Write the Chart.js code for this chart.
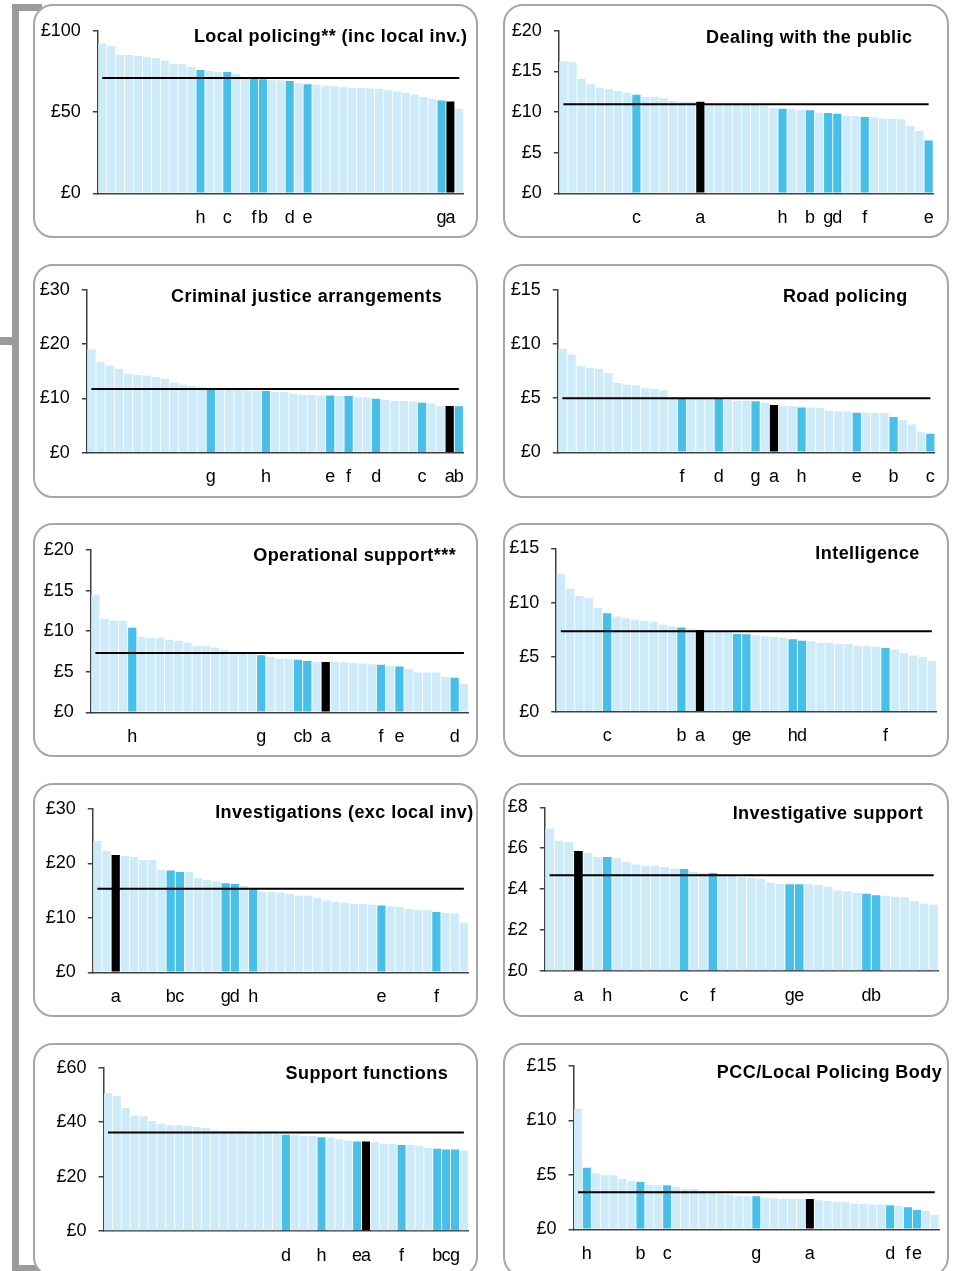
<!DOCTYPE html>
<html>
<head>
<meta charset="utf-8">
<script src="https://cdn.jsdelivr.net/npm/chart.js@4.4.1/dist/chart.umd.min.js"></script>
<style>
  body { margin: 0; background: #fff; }
  #wrap { position: relative; width: 955px; height: 1271px; overflow: hidden; background: #fff;
          font-family: 'Liberation Sans', Arial, sans-serif; }
  .bracket { position: absolute; background: #9b9b9b; }
  .panel { position: absolute; box-sizing: border-box; border: 2px solid #a6a6a6; border-radius: 20px; background: #fff; }
  .chart { position: absolute; }
  .title { position: absolute; font-weight: bold; font-size: 18px; line-height: 18px; letter-spacing: 0.45px;
           white-space: nowrap; color: #000; text-align: right; }
</style>
</head>
<body>
<div id="wrap">
  <div class="bracket" style="left:12px;top:4px;width:7px;height:1267px"></div>
  <div class="bracket" style="left:12px;top:4px;width:30px;height:7px"></div>
  <div class="bracket" style="left:0;top:337px;width:12px;height:8px"></div>
  <div class="bracket" style="left:12px;top:1265px;width:30px;height:7px"></div>
</div>
<script>
/* costs per head, 41 forces sorted high to low; letters mark the 8 highlighted forces, 'a' in black */

const localValues = [92.2, 90.4, 85.2, 85.0, 84.4, 83.6, 83.2, 81.6, 79.5, 79.3,
  77.7, 75.8, 75.2, 74.6, 74.6, 73.4, 71.0, 70.5, 70.2, 69.5,
  69.5, 69.0, 67.8, 67.0, 66.8, 66.2, 65.8, 65.2, 64.8, 64.8,
  64.5, 64.1, 63.3, 62.5, 61.7, 60.7, 59.4, 58.2, 57.0, 56.4, 51.8];
const localLabels = ['', '', '', '', '', '', '', '', '', '',
  '', 'h', '', '', 'c', '', '', 'f', 'b', '',
  '', 'd', '', 'e', '', '', '', '', '', '',
  '', '', '', '', '', '', '', '', 'g', 'a', ''];
const localAvg = 70.9;

const publicValues = [16.2, 16.15, 14.06, 13.4, 12.95, 12.8, 12.54, 12.38, 12.13, 11.84,
  11.84, 11.68, 11.35, 11.25, 11.25, 11.25, 11.0, 10.95, 10.95, 10.9,
  10.9, 10.85, 10.8, 10.53, 10.41, 10.37, 10.25, 10.2, 9.92, 9.88,
  9.8, 9.55, 9.5, 9.39, 9.34, 9.18, 9.14, 9.1, 8.28, 7.66, 6.48];
const publicLabels = ['', '', '', '', '', '', '', '', 'c', '',
  '', '', '', '', '', 'a', '', '', '', '',
  '', '', '', '', 'h', '', '', 'b', '', 'g',
  'd', '', '', 'f', '', '', '', '', '', '', 'e'];
const publicAvg = 10.95;

const justiceValues = [19.05, 16.7, 16.1, 15.5, 14.57, 14.32, 14.2, 13.95, 13.58, 12.9,
  12.54, 12.29, 12.17, 11.92, 11.68, 11.55, 11.55, 11.43, 11.43, 11.37,
  11.19, 11.19, 10.88, 10.63, 10.63, 10.57, 10.57, 10.45, 10.45, 10.2,
  10.2, 9.96, 9.71, 9.53, 9.53, 9.47, 9.22, 9.1, 8.6, 8.6, 8.55];
const justiceLabels = ['', '', '', '', '', '', '', '', '', '',
  '', '', '', 'g', '', '', '', '', '', 'h',
  '', '', '', '', '', '', 'e', '', 'f', '',
  '', 'd', '', '', '', '', 'c', '', '', 'a', 'b'];
const justiceAvg = 11.74;

const roadValues = [9.58, 9.05, 7.98, 7.82, 7.73, 7.33, 6.41, 6.25, 6.19, 5.91,
  5.85, 5.73, 5.11, 4.96, 4.93, 4.93, 4.93, 4.93, 4.84, 4.77,
  4.77, 4.71, 4.59, 4.37, 4.31, 4.28, 4.13, 4.13, 4.1, 3.85,
  3.79, 3.76, 3.66, 3.66, 3.63, 3.63, 3.26, 2.96, 2.56, 1.85, 1.72];
const roadLabels = ['', '', '', '', '', '', '', '', '', '',
  '', '', '', 'f', '', '', '', 'd', '', '',
  '', 'g', '', 'a', '', '', 'h', '', '', '',
  '', '', 'e', '', '', '', 'b', '', '', '', 'c'];
const roadAvg = 5.0;

const opsValues = [14.46, 11.54, 11.29, 11.29, 10.43, 9.28, 9.2, 9.2, 8.95, 8.79,
  8.54, 8.21, 8.13, 7.97, 7.72, 7.47, 7.35, 7.19, 7.02, 6.86,
  6.61, 6.53, 6.49, 6.32, 6.24, 6.2, 6.2, 6.16, 6.08, 6.0,
  5.91, 5.87, 5.75, 5.63, 5.38, 4.89, 4.89, 4.89, 4.35, 4.27, 3.53];
const opsLabels = ['', '', '', '', 'h', '', '', '', '', '',
  '', '', '', '', '', '', '', '', 'g', '',
  '', '', 'c', 'b', '', 'a', '', '', '', '',
  '', 'f', '', 'e', '', '', '', '', '', 'd', ''];
const opsAvg = 7.31;

const intelValues = [12.64, 11.26, 10.62, 10.41, 9.52, 9.03, 8.75, 8.57, 8.45, 8.33,
  8.26, 7.99, 7.81, 7.74, 7.56, 7.5, 7.35, 7.32, 7.26, 7.13,
  7.1, 7.01, 6.92, 6.86, 6.76, 6.64, 6.52, 6.46, 6.31, 6.31,
  6.21, 6.21, 6.06, 6.0, 5.97, 5.85, 5.69, 5.36, 5.17, 5.02, 4.65];
const intelLabels = ['', '', '', '', '', 'c', '', '', '', '',
  '', '', '', 'b', '', 'a', '', '', '', 'g',
  'e', '', '', '', '', 'h', 'd', '', '', '',
  '', '', '', '', '', 'f', '', '', '', '', ''];
const intelAvg = 7.38;

const investValues = [24.13, 22.29, 21.55, 21.37, 21.19, 20.64, 20.64, 18.86, 18.68, 18.43,
  18.43, 17.33, 16.96, 16.72, 16.35, 16.23, 15.86, 15.37, 14.76, 14.76,
  14.64, 14.39, 14.08, 14.08, 13.66, 13.17, 12.92, 12.8, 12.55, 12.55,
  12.43, 12.25, 12.12, 12.0, 11.63, 11.39, 11.39, 11.08, 10.9, 10.78, 9.12];
const investLabels = ['', '', 'a', '', '', '', '', '', 'b', 'c',
  '', '', '', '', 'g', 'd', '', 'h', '', '',
  '', '', '', '', '', '', '', '', '', '',
  '', 'e', '', '', '', '', '', 'f', '', '', ''];
const investAvg = 15.37;

const invSupValues = [6.97, 6.37, 6.31, 5.87, 5.77, 5.57, 5.57, 5.51, 5.33, 5.2,
  5.13, 5.13, 5.08, 5.0, 4.99, 4.84, 4.79, 4.79, 4.68, 4.64,
  4.58, 4.55, 4.5, 4.32, 4.25, 4.24, 4.24, 4.24, 4.2, 4.12,
  3.93, 3.88, 3.81, 3.78, 3.7, 3.67, 3.63, 3.6, 3.41, 3.29, 3.24];
const invSupLabels = ['', '', '', 'a', '', '', 'h', '', '', '',
  '', '', '', '', 'c', '', '', 'f', '', '',
  '', '', '', '', '', 'g', 'e', '', '', '',
  '', '', '', 'd', 'b', '', '', '', '', '', ''];
const invSupAvg = 4.68;

const supportValues = [50.6, 49.6, 45.2, 42.4, 42.1, 40.4, 39.3, 38.9, 38.9, 38.7,
  38.2, 37.8, 36.9, 36.7, 36.7, 36.7, 36.5, 36.1, 35.9, 35.6,
  35.4, 35.4, 34.9, 34.9, 34.4, 34.3, 33.7, 33.2, 32.9, 32.9,
  32.7, 32.1, 32.1, 31.6, 31.6, 31.2, 30.5, 30.2, 29.9, 29.9, 29.6];
const supportLabels = ['', '', '', '', '', '', '', '', '', '',
  '', '', '', '', '', '', '', '', '', '',
  'd', '', '', '', 'h', '', '', '', 'e', 'a',
  '', '', '', 'f', '', '', '', 'b', 'c', 'g', ''];
const supportAvg = 36.2;

const pccValues = [11.05, 5.66, 5.14, 4.96, 4.96, 4.65, 4.44, 4.35, 4.07, 4.04,
  4.04, 3.89, 3.7, 3.7, 3.43, 3.31, 3.21, 3.18, 3.09, 3.03,
  3.03, 2.88, 2.85, 2.79, 2.79, 2.79, 2.79, 2.66, 2.6, 2.54,
  2.51, 2.36, 2.33, 2.27, 2.27, 2.2, 2.14, 2.02, 1.78, 1.71, 1.32];
const pccLabels = ['', 'h', '', '', '', '', '', 'b', '', '',
  'c', '', '', '', '', '', '', '', '', '',
  'g', '', '', '', '', '', 'a', '', '', '',
  '', '', '', '', '', 'd', '', 'f', 'e', '', ''];
const pccAvg = 3.4;

/* layout: box = panel top-left, plot = [left, right, top, bottom] of bar area, head = [title right edge, cap top] */
const panels = [
  { title: 'Local policing** (inc local inv.)', values: localValues, labels: localLabels, avg: localAvg, max: 100, step: 50,
    box: [33, 4, 445], plot: [97.8, 463.8, 30.7, 193.3], head: [467, 29.7] },
  { title: 'Dealing with the public', values: publicValues, labels: publicLabels, avg: publicAvg, max: 20, step: 5,
    box: [503, 4, 446], plot: [558.8, 933.2, 30.7, 193.3], head: [912, 30] },
  { title: 'Criminal justice arrangements', values: justiceValues, labels: justiceLabels, avg: justiceAvg, max: 30, step: 10,
    box: [33, 264, 445], plot: [86.8, 466.5, 290, 452.7], head: [441.7, 289.3] },
  { title: 'Road policing', values: roadValues, labels: roadLabels, avg: roadAvg, max: 15, step: 5,
    box: [503, 264, 446], plot: [557.8, 937.2, 290, 452.3], head: [907.3, 289.3] },
  { title: 'Operational support***', values: opsValues, labels: opsLabels, avg: opsAvg, max: 20, step: 5,
    box: [33, 523, 445], plot: [90.8, 469.2, 550, 712.3], head: [455.7, 548.3] },
  { title: 'Intelligence', values: intelValues, labels: intelLabels, avg: intelAvg, max: 15, step: 5,
    box: [503, 523, 446], plot: [556.2, 936.5, 548.3, 711.7], head: [919.3, 546.7] },
  { title: 'Investigations (exc local inv)', values: investValues, labels: investLabels, avg: investAvg, max: 30, step: 10,
    box: [33, 783, 445], plot: [92.8, 469.2, 809, 972.3], head: [473.3, 805] },
  { title: 'Investigative support', values: invSupValues, labels: invSupLabels, avg: invSupAvg, max: 8, step: 2,
    box: [503, 783, 446], plot: [544.8, 938.5, 807.3, 971], head: [922.7, 806] },
  { title: 'Support functions', values: supportValues, labels: supportLabels, avg: supportAvg, max: 60, step: 20,
    box: [33, 1043, 445], plot: [103.5, 469.2, 1067.7, 1231], head: [447.7, 1066] },
  { title: 'PCC/Local Policing Body', values: pccValues, labels: pccLabels, avg: pccAvg, max: 15, step: 5,
    box: [503, 1043, 446], plot: [573.5, 939.2, 1066, 1229.3], head: [941.7, 1065] }
];

const LIGHT = '#cdebf9';
const DARK = '#48bfe9';
const AXIS = '#404040';
const PANEL_H = 234;

Chart.defaults.font.family = "'Liberation Sans', Arial, sans-serif";
Chart.defaults.color = '#000';

const barColor = (lbl) => lbl === 'a' ? '#000000' : (lbl ? DARK : LIGHT);

/* black average line from the first bar centre to the last */
const avgLine = {
  id: 'avgLine',
  afterDatasetsDraw(chart, args, opts) {
    const xs = chart.scales.x, ys = chart.scales.y;
    const n = chart.data.labels.length;
    const y = ys.getPixelForValue(opts.value);
    const ctx = chart.ctx;
    ctx.save();
    ctx.strokeStyle = '#000';
    ctx.lineWidth = 2;
    ctx.beginPath();
    ctx.moveTo(xs.getPixelForValue(0), y);
    ctx.lineTo(xs.getPixelForValue(n - 1), y);
    ctx.stroke();
    ctx.restore();
  }
};

const wrap = document.getElementById('wrap');

panels.forEach(p => {
  const [bx, by, bw] = p.box;
  const [L, R, T, B] = p.plot;

  const box = document.createElement('div');
  box.className = 'panel';
  box.style.left = bx + 'px';
  box.style.top = by + 'px';
  box.style.width = bw + 'px';
  box.style.height = PANEL_H + 'px';
  wrap.appendChild(box);

  const canvas = document.createElement('canvas');
  canvas.className = 'chart';
  canvas.width = bw;
  canvas.height = PANEL_H;
  canvas.style.left = bx + 'px';
  canvas.style.top = by + 'px';
  wrap.appendChild(canvas);

  // 18px line box: cap top sits ~2.4px below the box top
  const title = document.createElement('div');
  title.className = 'title';
  title.textContent = p.title;
  title.style.right = (955 - p.head[0] - 0.45) + 'px';
  title.style.top = (p.head[1] - 2.4) + 'px';
  wrap.appendChild(title);

  new Chart(canvas, {
    type: 'bar',
    data: {
      labels: p.labels,
      datasets: [{
        data: p.values,
        backgroundColor: p.labels.map(barColor),
        borderWidth: 0,
        barPercentage: 0.9,
        categoryPercentage: 1.0
      }]
    },
    options: {
      responsive: false,
      maintainAspectRatio: false,
      animation: false,
      layout: { padding: { left: 0, top: T - by, right: bw - (R - bx), bottom: 0 } },
      plugins: {
        legend: { display: false },
        tooltip: { enabled: false },
        avgLine: { value: p.avg }
      },
      scales: {
        x: {
          grid: { display: false, drawTicks: false },
          border: { display: true, color: AXIS, width: 1.5 },
          ticks: { autoSkip: false, maxRotation: 0, minRotation: 0, padding: 14, color: '#000', font: { size: 18 } },
          afterFit: (s) => { s.height = PANEL_H - (B - by); }
        },
        y: {
          min: 0,
          max: p.max,
          grid: { drawOnChartArea: false, drawTicks: true, tickLength: 5, color: AXIS, lineWidth: 1.5 },
          border: { display: true, color: AXIS, width: 1.5 },
          ticks: { stepSize: p.step, padding: 12, color: '#000', font: { size: 18 }, callback: (v) => '£' + v },
          afterFit: (s) => { s.width = L - bx; }
        }
      }
    },
    plugins: [avgLine]
  });
});
</script>
</body>
</html>
